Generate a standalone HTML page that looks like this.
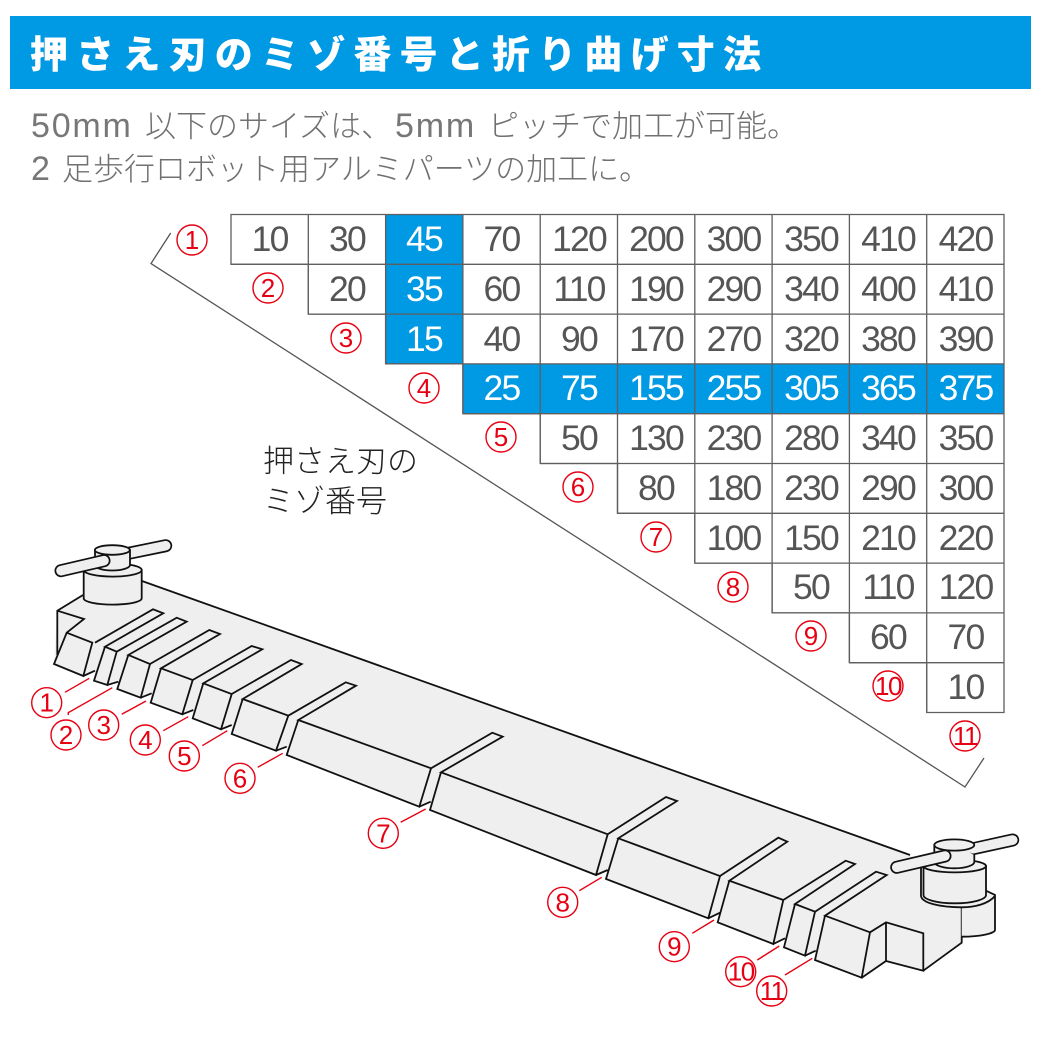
<!DOCTYPE html>
<html lang="ja"><head><meta charset="utf-8"><title>押さえ刃のミゾ番号と折り曲げ寸法</title>
<style>
html,body{margin:0;padding:0;background:#fff}
svg{display:block}
text{font-family:"Liberation Sans","Noto Sans CJK JP",sans-serif}
.t{font-size:35.5px;fill:#555;text-anchor:middle;letter-spacing:-1.8px}
.w{fill:#fff}
.c{font-size:26px;fill:#e60012;text-anchor:middle}
.j{font-size:31px;font-weight:300;fill:#707070;font-family:"Noto Sans CJK JP","Liberation Sans",sans-serif}
.l{font-size:34px;fill:#777;letter-spacing:1.8px}
.m{font-size:31px;font-weight:300;fill:#222;font-family:"Noto Sans CJK JP",sans-serif}
</style></head><body>
<svg xmlns="http://www.w3.org/2000/svg" width="1042" height="1042" viewBox="0 0 1042 1042">
<rect x="10" y="16" width="1021" height="73" fill="#0099e3"/>
<text x="30" y="68" font-size="38" font-weight="900" fill="#fff" letter-spacing="8.2" style="font-family:'Noto Sans CJK JP',sans-serif">押さえ刃のミゾ番号と折り曲げ寸法</text>

<text class="l" x="31" y="137">50mm</text>
<text class="j" x="145" y="137">以下のサイズは、</text>
<text class="l" x="395" y="137">5mm</text>
<text class="j" x="488" y="137">ピッチで加工が可能。</text>
<text class="l" x="31" y="180">2</text>
<text class="j" x="62" y="180">足歩行ロボット用アルミパーツの加工に。</text>

<g fill="#0099e3">
<rect x="385.6" y="214.5" width="77.3" height="149.4"/>
<rect x="462.9" y="363.9" width="541.1" height="49.8"/>
</g>
<g fill="none" stroke="#5f5f5f" stroke-width="1.3">
<path d="M231 214.5H1004V712.5H926.7V662.7H849.4V612.9H772.1V563.1H694.8V513.3H617.5V463.5H540.2V413.7H462.9V363.9H385.6V314.1H308.3V264.3H231Z"/>
<path d="M231 264.3H1004M308.3 314.1H1004M385.6 363.9H1004M462.9 413.7H1004M540.2 463.5H1004M617.5 513.3H1004M694.8 563.1H1004M772.1 612.9H1004M849.4 662.7H1004"/>
<path d="M308.3 214.5V314.1M385.6 214.5V363.9M462.9 214.5V413.7M540.2 214.5V463.5M617.5 214.5V513.3M694.8 214.5V563.1M772.1 214.5V612.9M849.4 214.5V662.7M926.7 214.5V712.5"/>
</g>

<g transform="translate(0,-0.8)">
<text class="t" x="269.6" y="252">10</text><text class="t" x="347" y="252">30</text><text class="t w" x="424" y="252">45</text><text class="t" x="501.5" y="252">70</text><text class="t" x="579" y="252">120</text><text class="t" x="656" y="252">200</text><text class="t" x="733.5" y="252">300</text><text class="t" x="811" y="252">350</text><text class="t" x="888" y="252">410</text><text class="t" x="965.5" y="252">420</text>
<text class="t" x="347" y="302">20</text><text class="t w" x="424" y="302">35</text><text class="t" x="501.5" y="302">60</text><text class="t" x="579" y="302">110</text><text class="t" x="656" y="302">190</text><text class="t" x="733.5" y="302">290</text><text class="t" x="811" y="302">340</text><text class="t" x="888" y="302">400</text><text class="t" x="965.5" y="302">410</text>
<text class="t w" x="424" y="352">15</text><text class="t" x="501.5" y="352">40</text><text class="t" x="579" y="352">90</text><text class="t" x="656" y="352">170</text><text class="t" x="733.5" y="352">270</text><text class="t" x="811" y="352">320</text><text class="t" x="888" y="352">380</text><text class="t" x="965.5" y="352">390</text>
<text class="t w" x="501.5" y="401">25</text><text class="t w" x="579" y="401">75</text><text class="t w" x="656" y="401">155</text><text class="t w" x="733.5" y="401">255</text><text class="t w" x="811" y="401">305</text><text class="t w" x="888" y="401">365</text><text class="t w" x="965.5" y="401">375</text>
<text class="t" x="579" y="451">50</text><text class="t" x="656" y="451">130</text><text class="t" x="733.5" y="451">230</text><text class="t" x="811" y="451">280</text><text class="t" x="888" y="451">340</text><text class="t" x="965.5" y="451">350</text>
<text class="t" x="656" y="501">80</text><text class="t" x="733.5" y="501">180</text><text class="t" x="811" y="501">230</text><text class="t" x="888" y="501">290</text><text class="t" x="965.5" y="501">300</text>
<text class="t" x="733.5" y="551">100</text><text class="t" x="811" y="551">150</text><text class="t" x="888" y="551">210</text><text class="t" x="965.5" y="551">220</text>
<text class="t" x="811" y="600">50</text><text class="t" x="888" y="600">110</text><text class="t" x="965.5" y="600">120</text>
<text class="t" x="888" y="650">60</text><text class="t" x="965.5" y="650">70</text>
<text class="t" x="965.5" y="700">10</text>
</g>

<path d="M170.7 233L151 263.5L965 787L984 758" fill="none" stroke="#555" stroke-width="1.3"/>

<text class="m" x="263" y="472">押さえ刃の</text>
<text class="m" x="263" y="512">ミゾ番号</text>

<!-- bar fill -->
<path d="M83 595L142 581L910 855L962 880V942.7L923.3 970.7L886 961L861.7 977.7L815 960L815.7 950.7L805 955.7L784 947.3L785 938.3L773.3 944L717.7 922.3L720 912.7L708.3 918.3L606 879L607.7 870L596 875L430 810L430.7 801.7L419.3 806.7L286.7 755L286.7 746.7L276 750.7L231.7 734L231.7 725L221 729.3L192.7 718.3L193.3 710L182.3 714.3L150.7 702.7L151.7 693.3L140.7 697.7L117.3 689L118.3 681.7L107.3 685L94 680.7L95 670.7L83.3 676L54 664L57.3 610.7Z" fill="#efefef"/>

<g fill="none" stroke="#111" stroke-width="1.8" stroke-linejoin="miter">
<path d="M142 581L910 855"/>
<path d="M83 595L57.3 610.7V655M57.3 610.7L84 619L66.7 632.7L54 664L83.3 676L92.3 642.7L66.7 632.7"/>
<path d="M83.3 676L95 670.7M95 642.7L153 609.3L163.3 613.3L105 646.7L116.7 651.7L107.3 685L94 680.7L105 646.7"/>
<path d="M107.3 685L118.3 681.7M116.7 651.7L176.7 617.7L186.7 621.7L128.3 655L150 664L140.7 697.7L117.3 689L128.3 655"/>
<path d="M140.7 697.7L151.7 693.3M150 664L209.3 630L220 634L161 668.3L192.7 680L182.3 714.3L150.7 702.7L161 668.3"/>
<path d="M182.3 714.3L193.3 710M192.7 680L251.7 646L262.3 649.3L203.3 683.3L231.7 694L221 729.3L192.7 718.3L203.3 683.3"/>
<path d="M221 729.3L231.7 725M231.7 694L291 660L301.7 664L242.7 699L288.3 715.7L276 750.7L231.7 734L242.7 699"/>
<path d="M276 750.7L286.7 746.7M288.3 715.7L345.7 682.3L356 685.7L298.3 720L431 768.3L419.3 806.7L286.7 755L298.3 720"/>
<path d="M419.3 806.7L430.7 801.7M431 768.3L492.3 732.7L502.7 736.7L441 772.3L607.7 834.3L596 875L430 810L441 772.3"/>
<path d="M596 875L607.7 870M607.7 834.3L666 797L677 801L618.3 838.3L720 876L708.3 918.3L606 879L618.3 838.3"/>
<path d="M708.3 918.3L720 912.7M720 876L778.3 837.7L787.3 841.7L729.3 880.7L783.3 900L773.3 944L717.7 922.3L729.3 880.7"/>
<path d="M773.3 944L785 938.3M783.3 900L845.7 860.7L855 864L795 904L815 911.7L805 955.7L784 947.3L795 904"/>
<path d="M805 955.7L815.7 950.7M815 911.7L876 871.7L886.7 875L825 915.7L870 932.3L861.7 977.7L815 960L825 915.7"/>
<path d="M870 932.3L886 922.3L923.3 933.3V970.7L886 961L861.7 977.7M886 922.3V961M923.3 970.7L961.7 942.7V907"/>
</g>

<!-- left clamp -->
<g stroke="#111" stroke-width="1.8">
<line x1="130" y1="553" x2="165.7" y2="545.7" stroke-width="13" stroke-linecap="round"/>
<line x1="128" y1="553.4" x2="165.7" y2="545.7" stroke="#efefef" stroke-width="9.6" stroke-linecap="round"/>
<path d="M83.7 570V598.3C83.7 601.8 96 604.6 112.7 604.6S141.7 601.8 141.7 598.3V570Z" fill="#efefef"/>
<ellipse cx="112.7" cy="570" rx="29" ry="6.6" fill="#efefef"/>
<path d="M95 550V565C95 568 102.8 570.5 112.3 570.5S130 568 130 565V550Z" fill="#efefef"/>
<ellipse cx="112.3" cy="550" rx="17.5" ry="4.8" fill="#efefef"/>
<line x1="61" y1="570.7" x2="104" y2="560.7" stroke-width="13" stroke-linecap="round"/>
<line x1="61" y1="570.7" x2="104" y2="560.7" stroke="#efefef" stroke-width="9.6" stroke-linecap="round"/>
</g>

<!-- right clamp -->
<g stroke="#111" stroke-width="1.8">
<path d="M961.7 900L986 890.7L995 895V930C995 933 982 936.7 961.7 936.7" fill="#efefef"/>
<path d="M921 868V896C922 903 940 907.3 961.7 907.3C975 907.3 988 904 995 896" fill="#efefef"/>
<path d="M923.5 866V895C923.5 899.5 937 903.3 954.7 903.3S986 899.5 986 895V866Z" fill="#efefef"/>
<ellipse cx="954.7" cy="866" rx="31.3" ry="6.4" fill="#efefef"/>
<path d="M934.3 845V862C934.3 865.4 943.4 868.3 954.3 868.3S974.3 865.4 974.3 862V845Z" fill="#efefef"/>
<line x1="975" y1="848.3" x2="1012.7" y2="840" stroke-width="13" stroke-linecap="round"/>
<line x1="973" y1="848.7" x2="1012.7" y2="840" stroke="#efefef" stroke-width="9.6" stroke-linecap="round"/>
<ellipse cx="954.3" cy="845" rx="20" ry="5.6" fill="#efefef"/>
<line x1="896.7" y1="867.3" x2="945" y2="856" stroke-width="13" stroke-linecap="round"/>
<line x1="896.7" y1="867.3" x2="945" y2="856" stroke="#efefef" stroke-width="9.6" stroke-linecap="round"/>
</g>

<!-- callouts -->
<g stroke="#e60012" stroke-width="1.4" fill="none">
<path d="M89.3 678.3L65 692.3M112.3 687.7L68.3 712.7V715M146 701L121.7 714.3M188.3 716.7L163.3 730.7M227.3 730.7L202.3 745.7M282.7 753.3L257.7 767.3M425.7 809L400.7 822.3M601.7 877.3L579.3 890.7M714 920L692.3 933.3M779.3 946L757.3 960M812.3 958.3L785 975"/>
<circle cx="192" cy="240" r="15"/><circle cx="268" cy="288" r="15"/><circle cx="346" cy="338" r="15"/><circle cx="424" cy="388" r="15"/><circle cx="501" cy="437" r="15"/><circle cx="578" cy="487" r="15"/><circle cx="656" cy="537" r="15"/><circle cx="733" cy="587" r="15"/><circle cx="811" cy="636" r="15"/><circle cx="888" cy="686" r="15"/><circle cx="965" cy="736" r="15"/>
<circle cx="46.7" cy="702.7" r="15"/><circle cx="66" cy="735" r="15"/><circle cx="103.7" cy="725" r="15"/><circle cx="145.3" cy="740" r="15"/><circle cx="184.3" cy="756" r="15"/><circle cx="240" cy="778.3" r="15"/><circle cx="383.3" cy="833.3" r="15"/><circle cx="562.7" cy="902.3" r="15"/><circle cx="674.3" cy="946.7" r="15"/><circle cx="740.7" cy="971.7" r="15"/><circle cx="771.7" cy="991" r="15"/>
</g>
<g>
<text class="c" x="192" y="249">1</text><text class="c" x="268" y="297">2</text><text class="c" x="346" y="347">3</text><text class="c" x="424" y="397">4</text><text class="c" x="501" y="446">5</text><text class="c" x="578" y="496">6</text><text class="c" x="656" y="546">7</text><text class="c" x="733" y="596">8</text><text class="c" x="811" y="645">9</text><text class="c" x="888" y="695" letter-spacing="-1.5">10</text><text class="c" x="965" y="745" letter-spacing="-1.5">11</text>
<text class="c" x="46.7" y="711.5">1</text><text class="c" x="66" y="744">2</text><text class="c" x="103.7" y="734">3</text><text class="c" x="145.3" y="749">4</text><text class="c" x="184.3" y="765">5</text><text class="c" x="240" y="787.3">6</text><text class="c" x="383.3" y="842.3">7</text><text class="c" x="562.7" y="911.3">8</text><text class="c" x="674.3" y="955.7">9</text><text class="c" x="740.7" y="980.7" letter-spacing="-1.5">10</text><text class="c" x="771.7" y="1000" letter-spacing="-1.5">11</text>
</g>
</svg>
</body></html>
